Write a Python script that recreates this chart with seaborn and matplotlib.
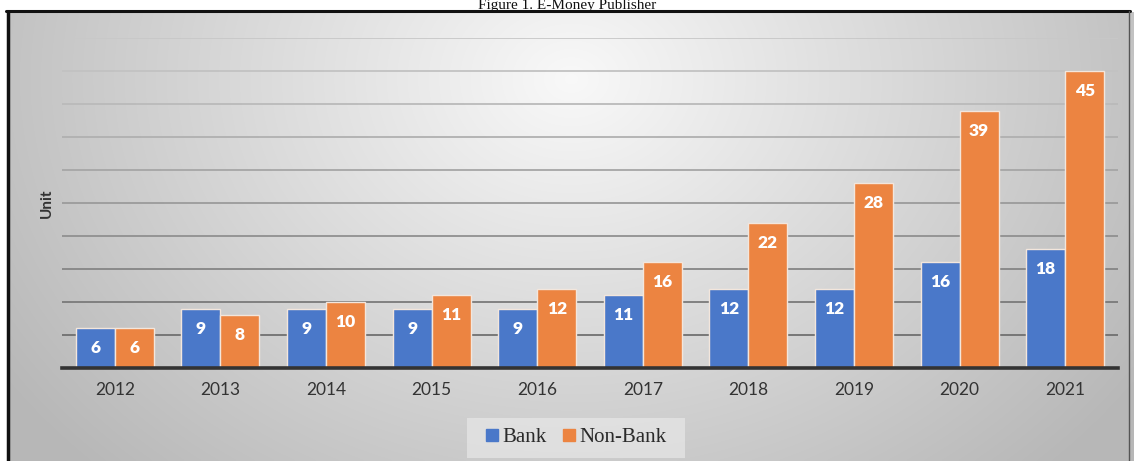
import numpy as np
import pandas as pd
import matplotlib
matplotlib.use("Agg")
import matplotlib.pyplot as plt
from matplotlib.patches import Rectangle
from matplotlib.lines import Line2D
import seaborn as sns

# ---- data ----
years = ["2012", "2013", "2014", "2015", "2016", "2017", "2018", "2019", "2020", "2021"]
bank = [6, 9, 9, 9, 9, 11, 12, 12, 16, 18]
non_bank = [6, 8, 10, 11, 12, 16, 22, 28, 39, 45]
series_names = ["Bank", "Non-Bank"]
title_text = "Figure 1. E-Money Publisher"
y_label = "Unit"

colors = ["#4a78c9", "#ec8441"]

df = pd.DataFrame({
    "year": years * 2,
    "value": bank + non_bank,
    "series": [series_names[0]] * len(years) + [series_names[1]] * len(years),
})

sns.set_theme(style="white")
plt.rcParams["font.family"] = ["Lato", "DejaVu Sans"]

W, H = 1134, 461
fig = plt.figure(figsize=(W / 100, H / 100), dpi=100)
fig.patch.set_facecolor("white")

# ---- gradient panel background ----
bx0, by_top = 9, 12
bg = fig.add_axes([bx0 / W, 0, (W - bx0) / W, (H - by_top) / H])
gx, gy = np.meshgrid(np.linspace(0, 1, 400), np.linspace(0, 1, 200))
r = np.sqrt(((gx - 0.5) / 0.5) ** 2 + ((gy - 0.15) / 1.0) ** 2)
b = np.clip(0.975 - 0.21 * r, 0.72, 1.0)
bg.imshow(np.dstack([b, b, b]), aspect="auto", extent=[0, 1, 1, 0], interpolation="bilinear")
bg.set_xlim(0, 1)
bg.set_ylim(1, 0)
bg.axis("off")

# border lines (left, top, right)
fig.add_artist(Line2D([7.5 / W, 7.5 / W], [0, 1 - by_top / H], transform=fig.transFigure,
                      color="#111111", lw=2.5))
fig.add_artist(Line2D([6 / W, 1130 / W], [1 - 11 / H, 1 - 11 / H], transform=fig.transFigure,
                      color="#111111", lw=2.2))
fig.add_artist(Line2D([1128.5 / W, 1128.5 / W], [0, 1 - 11 / H], transform=fig.transFigure,
                      color="#555555", lw=1.0))

# title
fig.text(0.5, 1 - 9 / H, title_text, ha="center", va="baseline",
         fontsize=11, family=["Liberation Serif", "DejaVu Serif"], color="#111111")

# ---- main axes ----
left, right, base, top = 62, 1118, 368, 38
ax = fig.add_axes([left / W, (H - base) / H, (right - left) / W, (base - top) / H])
ax.set_facecolor("none")

sns.barplot(data=df, x="year", y="value", hue="series", palette=colors,
            width=0.74, edgecolor="#f3e6dc", linewidth=1.0, ax=ax, legend=False,
            saturation=1)

ax.set_ylim(0, 50)
ax.set_xlim(-0.5, len(years) - 0.5)
ax.set_yticks(np.arange(0, 51, 5))
ax.set_yticklabels([])
ax.tick_params(axis="both", length=0)
ax.tick_params(axis="x", labelsize=12.5, labelcolor="#333333", pad=10)
ax.set_xlabel("")
ax.set_ylabel(y_label, fontsize=11, fontweight="bold", color="#333333", labelpad=0)
ax.yaxis.set_label_coords(-8 / (right - left), 0.5)
ax.yaxis.grid(True, lw=1.3)
ax.set_axisbelow(True)
grid_cols = ["#6a6a6a", "#707070", "#7a7a7a", "#858585", "#909090", "#9b9b9b",
             "#a6a6a6", "#b0b0b0", "#bababa", "#c2c2c2", "#c8c8c8"]
for i, gl in enumerate(ax.get_ygridlines()):
    gl.set_color(grid_cols[min(i, len(grid_cols) - 1)])
for s in ["left", "right", "top"]:
    ax.spines[s].set_visible(False)
ax.spines["bottom"].set_color("#333333")
ax.spines["bottom"].set_linewidth(2.6)

# value labels inside bars
for cont in ax.containers:
    for rect in cont:
        h = rect.get_height()
        ax.annotate(f"{int(round(h))}", xy=(rect.get_x() + rect.get_width() / 2, h),
                    xytext=(0, -20), textcoords="offset pixels",
                    ha="center", va="center", color="white", fontsize=12.5,
                    fontweight="heavy")

# ---- legend ----
fig.add_artist(Rectangle((467 / W, 1 - 458 / H), (685 - 467) / W, (458 - 418) / H,
                         transform=fig.transFigure, facecolor="#ececec", alpha=0.6,
                         edgecolor="none"))
handles = [Line2D([], [], marker="s", linestyle="none", markersize=8,
                  markerfacecolor=c, markeredgecolor=c) for c in colors]
fig.legend(handles, series_names, loc="center", bbox_to_anchor=(576 / W, 1 - 437 / H),
           ncol=2, frameon=False, handlelength=0.6, handletextpad=0.2, columnspacing=0.8,
           prop={"family": ["Liberation Serif", "DejaVu Serif"], "size": 15},
           labelcolor="#2a2a2a")

fig.savefig("out.png", dpi=100)
